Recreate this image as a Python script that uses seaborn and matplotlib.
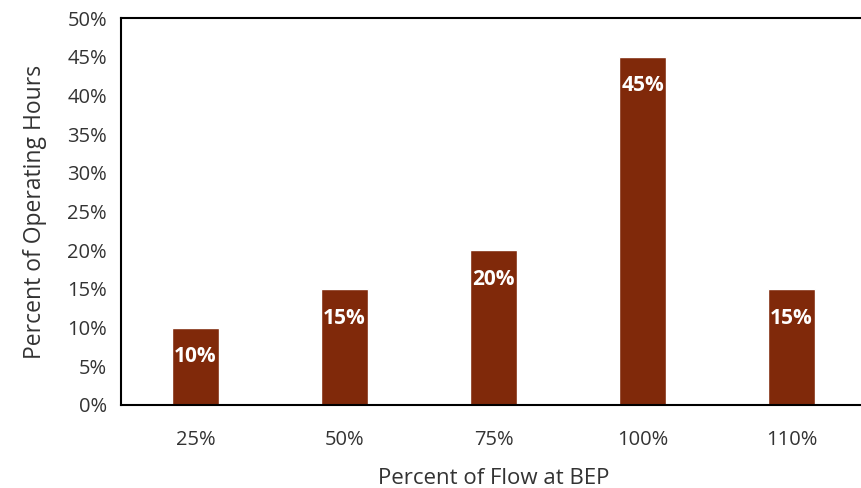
import matplotlib
matplotlib.use("Agg")
import matplotlib.pyplot as plt
import numpy as np
import pandas as pd
import seaborn as sns

flow = ['25%', '50%', '75%', '100%', '110%']
hours = [10, 15, 20, 45, 15]
bar_color = '#80290A'


def main():
    df = pd.DataFrame({'Flow': flow, 'Hours': hours})

    sns.set_style("white")
    plt.rcParams['font.family'] = ['Open Sans', 'DejaVu Sans']

    fig = plt.figure(figsize=(8.61, 4.88), dpi=100)
    ax = fig.add_axes([121 / 861, 1 - 405 / 488, 745 / 861, 387 / 488])

    sns.barplot(x='Flow', y='Hours', data=df, color=bar_color, width=0.31,
                saturation=1, ax=ax)

    ax.set_ylim(0, 50)
    ax.set_xlim(-0.5, 4.5)
    ax.set_yticks(np.arange(0, 51, 5))
    ax.set_yticklabels([f'{v}%' for v in range(0, 51, 5)])
    ax.tick_params(axis='y', direction='in', length=8, width=1.5, color='black',
                   labelsize=14.5, pad=10, labelcolor='#333333')
    ax.tick_params(axis='x', length=0, labelsize=14.5, pad=18, labelcolor='#333333')

    for side in ['left', 'bottom', 'top']:
        ax.spines[side].set_color('black')
        ax.spines[side].set_linewidth(1.5)
    ax.spines['right'].set_visible(False)

    ax.set_xlabel('Percent of Flow at BEP', fontsize=16, color='#333333', labelpad=13)
    ax.set_ylabel('Percent of Operating Hours', fontsize=16.5, color='#333333', labelpad=15)

    for i, v in enumerate(hours):
        ax.annotate(f'{v}%', xy=(i, v), xytext=(0, -21), textcoords='offset points',
                    ha='center', va='center', color='white', fontsize=15,
                    fontweight='bold')

    plt.savefig('out.png', dpi=100)
    plt.close()


if __name__ == "__main__":
    main()
